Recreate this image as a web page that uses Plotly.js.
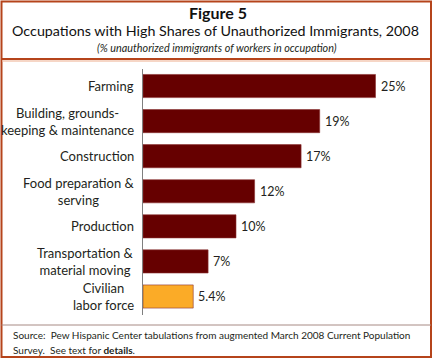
<!DOCTYPE html>
<html><head><meta charset="utf-8">
<script src="https://cdn.plot.ly/plotly-3.0.1.min.js"></script>
<style>html,body{margin:0;padding:0;background:#fff;}#chart{width:434px;height:360px;}</style>
</head><body><div id="chart"></div>
<script>
const categories = ["Farming","Building, grounds-<br>keeping & maintenance","Construction","Food preparation &<br>serving","Production","Transportation &<br>material moving","Civilian<br>labor force"];
const values = [25, 19, 17, 12, 10, 7, 5.4];
const valueLabels = ["25%","19%","17%","12%","10%","7%","5.4%"];
const barColors = ["#660000","#660000","#660000","#660000","#660000","#660000","#fbab27"];
const titleMain = "Occupations with High Shares of Unauthorized Immigrants, 2008";
const titleFig = "Figure 5";
const subtitle = "(% unauthorized immigrants of workers in occupation)";
const source1 = "Source:  Pew Hispanic Center tabulations from augmented March 2008 Current Population";
const source2 = "Survey.  See text for <b>details</b>.";

const W = 434, H = 360;
const px = x => x / W, py = y => 1 - y / H;
const FONT = "Lato, 'DejaVu Sans', sans-serif";
const TXT = "#231f20";

const trace = {
  type: "bar", orientation: "h",
  y: categories, x: values,
  marker: {color: barColors, line: {color: "#8a3030", width: 0.6}},
  hoverinfo: "skip"
};

const ann = [];
categories.forEach((c, i) => {
  ann.push({xref: "x", yref: "y", x: 0, y: c, text: c, showarrow: false,
    xanchor: "right", yanchor: "middle", align: "center", xshift: -7,
    font: {family: FONT, size: 13, color: TXT}});
  ann.push({xref: "x", yref: "y", x: values[i], y: c, text: valueLabels[i], showarrow: false,
    xanchor: "left", yanchor: "middle", xshift: 3,
    font: {family: FONT, size: 12.5, color: TXT}});
});
ann.push({xref: "paper", yref: "paper", x: px(218), y: py(13), text: "<b>" + titleFig + "</b>", showarrow: false,
  xanchor: "center", yanchor: "middle", font: {family: FONT, size: 16, color: "#111"}});
ann.push({xref: "paper", yref: "paper", x: px(215), y: py(30), text: titleMain, showarrow: false,
  xanchor: "center", yanchor: "middle", font: {family: FONT, size: 14.3, color: "#111"}});
ann.push({xref: "paper", yref: "paper", x: px(217), y: py(48), text: "<i>" + subtitle + "</i>", showarrow: false,
  xanchor: "center", yanchor: "middle", font: {family: FONT, size: 10.8, color: TXT}});
ann.push({xref: "paper", yref: "paper", x: px(11), y: py(335), text: source1, showarrow: false,
  xanchor: "left", yanchor: "middle", font: {family: FONT, size: 10, color: TXT}});
ann.push({xref: "paper", yref: "paper", x: px(11), y: py(350), text: source2, showarrow: false,
  xanchor: "left", yanchor: "middle", font: {family: FONT, size: 10, color: TXT}});

const shapes = [
  {type: "rect", xref: "paper", yref: "paper", x0: px(1.5), x1: px(431), y0: py(357), y1: py(1.5),
    line: {color: "#b5441b", width: 2}},
  {type: "line", xref: "paper", yref: "paper", x0: px(1.5), x1: px(431), y0: py(59), y1: py(59),
    line: {color: "#b5441b", width: 2}},
  {type: "line", xref: "paper", yref: "paper", x0: px(2.5), x1: px(430), y0: py(61), y1: py(61),
    line: {color: "#f3c9b3", width: 1.5}},
  {type: "line", xref: "paper", yref: "paper", x0: px(1.5), x1: px(431), y0: py(325), y1: py(325),
    line: {color: "#a78a84", width: 1}}
];

const layout = {
  width: W, height: H,
  margin: {l: 0, r: 0, t: 0, b: 0},
  paper_bgcolor: "#fff", plot_bgcolor: "#fff",
  showlegend: false,
  bargap: 0.34,
  xaxis: {domain: [px(143), px(422)], range: [0, 30], showgrid: false, zeroline: false,
    showticklabels: false, ticks: "", showline: false, fixedrange: true},
  yaxis: {domain: [py(315), py(68.5)], autorange: "reversed", showgrid: false, zeroline: false,
    showticklabels: false, ticks: "", showline: true, linecolor: "#7f7f7f", linewidth: 1.5, fixedrange: true},
  annotations: ann,
  shapes: shapes
};
Plotly.newPlot("chart", [trace], layout, {displayModeBar: false, staticPlot: true});
</script></body></html>
